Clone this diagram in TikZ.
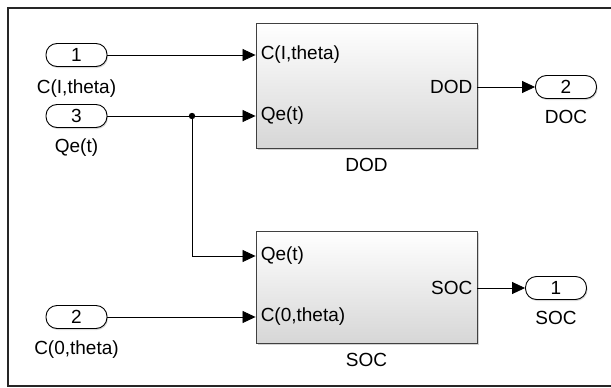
\documentclass[tikz,border=0pt]{standalone}
\usepackage{fontspec}
\setmainfont{Liberation Sans}
\usetikzlibrary{arrows.meta,shadows}

\begin{document}
\begin{tikzpicture}[x=1pt,y=-1pt,
	port/.style={draw=black,line width=0.9pt,rounded corners=11pt,fill=white,minimum width=61pt,minimum height=23pt,inner sep=0pt,font=\fontsize{19}{21}\selectfont,drop shadow={shadow xshift=1pt,shadow yshift=-1.5pt,opacity=0.3}},
	blk/.style={draw=black!75,line width=0.9pt,top color=white,bottom color=black!16,minimum width=221pt,inner sep=0pt,drop shadow={shadow xshift=1.5pt,shadow yshift=-1.5pt,opacity=0.35}},
	sig/.style={line width=0.8pt,-{Triangle[length=13pt,width=12pt]}},
	txt/.style={font=\fontsize{19}{21}\selectfont,inner sep=0pt}]
	\useasboundingbox (0,0) rectangle (611,388);
	\draw[line width=1.4pt,black!85] (611,8) -- (8,8) -- (8,386) -- (611,386);

	% inports
	\node[port] (in1) at (76.5,55) {1};
	\node[txt] (in1lab) at (76.5,89) {C(I,theta)};
	\node[port] (in3) at (76.5,116) {3};
	\node[txt] (in3lab) at (76.5,148) {Qe(t)};
	\node[port] (in2) at (76.5,317) {2};
	\node[txt] (in2lab) at (76.5,350) {C(0,theta)};

	% subsystems
	\node[blk,minimum height=125pt] (dod) at (366.5,85.5) {};
	\node[txt] (dodlab) at (366.5,165) {DOD};
	\node[blk,minimum height=112pt] (soc) at (366.5,287.5) {};
	\node[txt] (soclab) at (366.5,360) {SOC};

	\coordinate (dodA) at (dod.west |- in1);
	\coordinate (dodB) at (dod.west |- in3);
	\coordinate (dodY) at (dod.east |- 0,87);
	\coordinate (socA) at (soc.west |- 0,256);
	\coordinate (socB) at (soc.west |- in2);
	\coordinate (socY) at (soc.east |- 0,288);

	\node[txt,anchor=west] at ([xshift=5pt]dodA) {C(I,theta)};
	\node[txt,anchor=west] at ([xshift=5pt]dodB) {Qe(t)};
	\node[txt,anchor=east] at ([xshift=-5pt]dodY) {DOD};
	\node[txt,anchor=west] at ([xshift=5pt]socA) {Qe(t)};
	\node[txt,anchor=west] at ([xshift=5pt]socB) {C(0,theta)};
	\node[txt,anchor=east] at ([xshift=-5pt]socY) {SOC};

	% outports
	\node[port] (out2) at (566,87) {2};
	\node[txt] (out2lab) at (566,117) {DOC};
	\node[port] (out1) at (556,288) {1};
	\node[txt] (out1lab) at (556,318) {SOC};

	% signals
	\coordinate (jn) at (192,116);
	\draw[sig] (in1) -- (dodA);
	\draw[sig] (in3) -- (dodB);
	\draw[sig] (jn) |- (socA);
	\fill (jn) circle (3.2pt);
	\draw[sig] (in2) -- (socB);
	\draw[sig] (dodY) -- (out2);
	\draw[sig] (socY) -- (out1);
\end{tikzpicture}
\end{document}
